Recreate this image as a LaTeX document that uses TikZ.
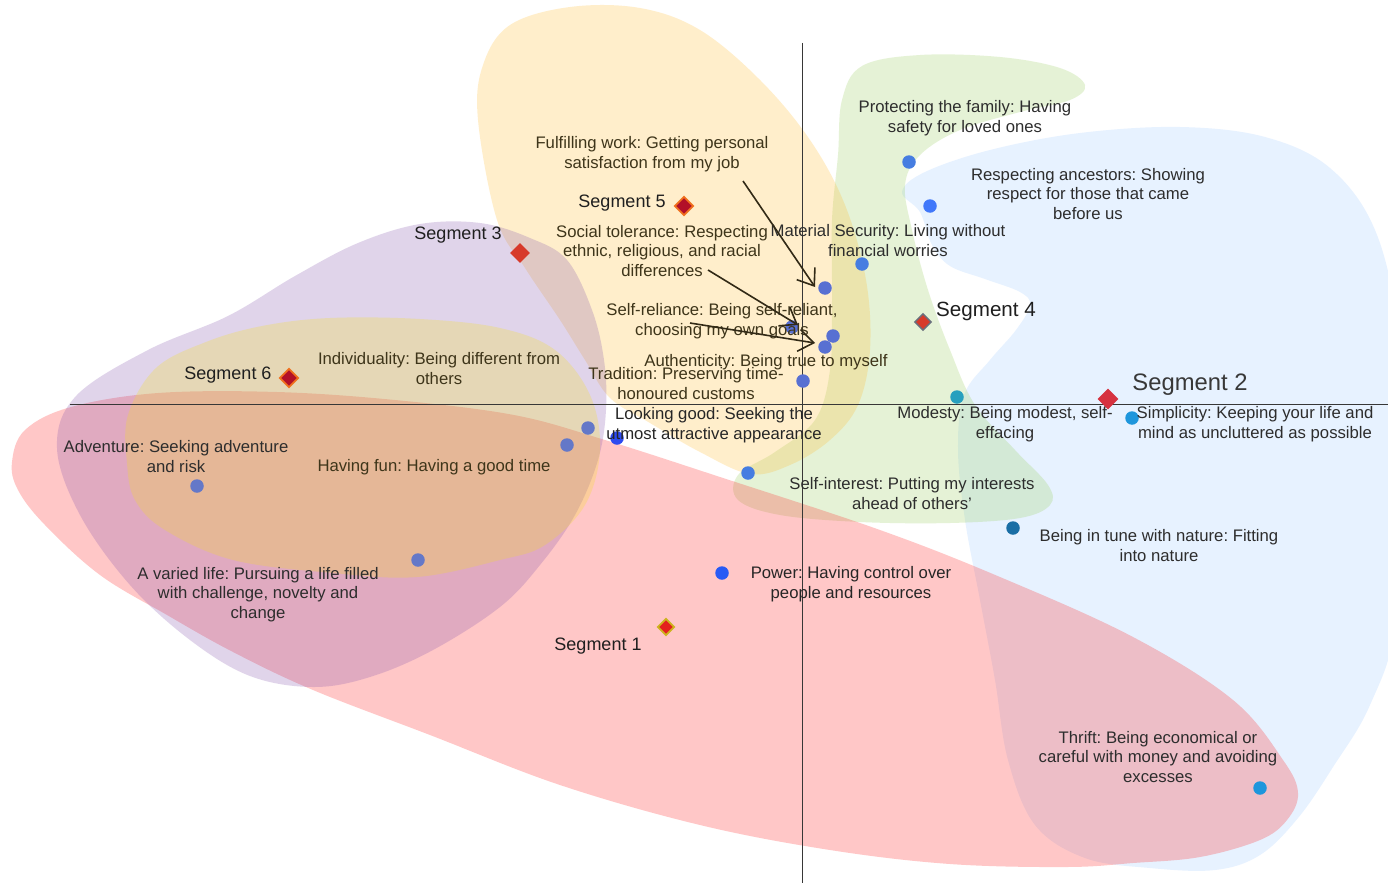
\documentclass[tikz,border=0pt]{standalone}
\usepackage{fontspec}
\setmainfont{Liberation Sans}
\usetikzlibrary{shapes.geometric,arrows.meta}
\frenchspacing

% blob fills (used translucent)
\definecolor{cBlue}{RGB}{160,205,255}
\definecolor{cGreen}{RGB}{155,207,95}
\definecolor{cYellow}{RGB}{255,190,51}
\definecolor{cRed}{RGB}{255,35,35}
\definecolor{cPurple}{RGB}{135,87,175}
\definecolor{cOrange}{RGB}{245,225,30}
% text and lines
\definecolor{txtGray}{RGB}{45,45,45}
\definecolor{txtOlive}{RGB}{62,53,26}
\definecolor{axisGray}{RGB}{55,55,55}
\definecolor{arrowBrown}{RGB}{50,42,22}
% value points
\definecolor{dotA}{RGB}{70,125,225}
\definecolor{dotB}{RGB}{65,120,250}
\definecolor{dotS}{RGB}{88,112,210}
\definecolor{dotG}{RGB}{100,120,200}
\definecolor{dotV}{RGB}{45,75,240}
\definecolor{dotW}{RGB}{40,90,245}
\definecolor{dotT}{RGB}{40,160,190}
\definecolor{dotL}{RGB}{30,150,220}
\definecolor{dotD}{RGB}{25,110,165}
% segment markers
\definecolor{segCrimson}{RGB}{178,16,40}
\definecolor{segOrange}{RGB}{240,112,30}
\definecolor{segRed}{RGB}{215,58,42}
\definecolor{segSlate}{RGB}{105,112,125}
\definecolor{segRose}{RGB}{214,50,64}
\definecolor{segScarlet}{RGB}{228,32,30}
\definecolor{segGold}{RGB}{205,180,30}

\tikzset{
  blob/.style={fill=#1, fill opacity=0.25, draw=none},
  lbl/.style={align=center, inner sep=0pt, text=txtGray,
    font=\fontsize{16.7}{19.3}\selectfont, text height=12pt, text depth=3.5pt},
  lbly/.style={lbl, text=txtOlive},
  seglbl/.style={inner sep=0pt, text=black!88, font=\fontsize{18}{20}\selectfont,
    text height=13pt, text depth=0pt},
  dot/.style={circle, inner sep=0pt, minimum size=13.5pt, fill=#1, draw=none},
  segmark/.style n args={2}{diamond, inner sep=0pt, minimum width=19pt,
    minimum height=19pt, fill=#1, draw=#2, line width=1.8pt},
  pointer/.style={draw=arrowBrown, line width=1.6pt,
    -{Straight Barb[length=15pt,width=22pt]}},
  axisline/.style={draw=axisGray, line width=0.9pt}
}

\begin{document}
\begin{tikzpicture}[x=1pt,y=-1pt]
\useasboundingbox (0,0) rectangle (1388,883);
\fill[white] (0,0) rectangle (1388,883);

% ---- segment regions ----
\fill[blob=cBlue] plot[smooth cycle, tension=0.6] coordinates {
  (902,192) (925,172) (990,150) (1080,133) (1180,127) (1265,137) (1330,168)
  (1375,230) (1398,330) (1400,450) (1396,620) (1370,705) (1333,767) (1298,818)
  (1260,855) (1215,870) (1150,868) (1085,858) (1035,825) (1008,760) (995,680)
  (980,600) (965,520) (958,450) (964,395) (990,360) (1016,330) (1030,305)
  (1020,292) (985,279) (950,266) (932,245) (920,212)};
\fill[blob=cGreen] plot[smooth cycle, tension=0.6] coordinates {
  (838,155) (842,100) (862,66) (920,55) (1000,57) (1060,68) (1085,85) (1070,100)
  (1020,112) (960,130) (920,155) (905,185) (912,230) (928,290) (950,350)
  (975,405) (1015,450) (1048,485) (1050,505) (1020,518) (950,523) (860,522)
  (780,515) (738,500) (738,475) (775,452) (815,420) (830,370) (832,300) (832,220)};
\fill[blob=cYellow] plot[smooth cycle, tension=0.6] coordinates {
  (478,120) (483,65) (510,25) (570,7) (640,8) (700,30) (760,80) (810,140)
  (845,205) (866,280) (870,350) (858,405) (830,440) (790,465) (750,474)
  (700,452) (650,423) (610,398) (585,360) (560,320) (525,268) (497,220)};
\fill[blob=cRed] plot[smooth cycle, tension=0.6] coordinates {
  (12,462) (25,430) (71,407) (158,393) (277,392) (395,400) (514,415) (605,440)
  (720,477) (880,530) (1000,577) (1133,637) (1233,700) (1283,760) (1298,793)
  (1287,820) (1260,840) (1200,857) (1133,863) (1067,867) (950,864) (830,850)
  (700,825) (560,785) (430,735) (313,690) (233,652) (167,615) (100,575)
  (45,525) (18,490)};
\fill[blob=cPurple] plot[smooth cycle, tension=0.6] coordinates {
  (57,448) (76,396) (148,350) (228,316) (295,276) (358,243) (420,224) (480,223)
  (530,238) (567,260) (592,310) (604,360) (606,410) (598,460) (575,515)
  (540,565) (500,607) (433,650) (370,677) (313,687) (250,676) (190,640)
  (130,585) (80,515)};
\fill[blob=cOrange] plot[smooth cycle, tension=0.6] coordinates {
  (127,463) (128,415) (156,368) (206,342) (262,326) (330,318) (420,319)
  (500,328) (555,350) (590,395) (600,450) (585,505) (545,545) (500,560)
  (417,577) (333,573) (233,560) (165,530) (135,500)};

% ---- axes ----
\coordinate (vTop) at (802,43);
\coordinate (vBot) at (802,883);
\coordinate (hLeft) at (70,404);
\coordinate (hRight) at (1388,404);
\draw[axisline] (vTop) -- (vBot);
\draw[axisline] (hLeft) -- (hRight);

% ---- value points ----
\node[dot=dotA] (dFam)  at (909,162) {};
\node[dot=dotB] (dAnc)  at (930,206) {};
\node[dot=dotA] (dMat)  at (862,264) {};
\node[dot=dotS] (dFul)  at (825,288) {};
\node[dot=dotS] (dRel)  at (792,327) {};
\node[dot=dotS] (dAu1)  at (833,336) {};
\node[dot=dotS] (dAu2)  at (825,347) {};
\node[dot=dotS] (dTra)  at (803,381) {};
\node[dot=dotG] (dFun1) at (588,428) {};
\node[dot=dotG] (dFun2) at (567,445) {};
\node[dot=dotV] (dLook) at (617,438) {};
\node[dot=dotA] (dInt)  at (748,473) {};
\node[dot=dotT] (dMod)  at (957,397) {};
\node[dot=dotL] (dSim)  at (1132,418) {};
\node[dot=dotD] (dNat)  at (1013,528) {};
\node[dot=dotL] (dThr)  at (1260,788) {};
\node[dot=dotG] (dAdv)  at (197,486) {};
\node[dot=dotG] (dVar)  at (418,560) {};
\node[dot=dotW] (dPow)  at (722,573) {};

% ---- value labels (y gives the last line) ----
\node[lbly] (lFul) at (652,164) {Fulfilling work: Getting personal\\satisfaction from my job};
\node[lbly] (lSoc) at (662,272) {Social tolerance: Respecting\\ethnic, religious, and racial\\differences};
\node[lbl] (lMat) at (888,252) {Material Security: Living without\\financial worries};
\node[lbl] (lFam) at (965,128) {Protecting the family: Having\\safety for loved ones};
\node[lbl] (lAnc) at (1088,215) {Respecting ancestors: Showing\\respect for those that came\\before us};
\node[lbly] (lRel) at (722,331) {Self-reliance: Being self-reliant,\\choosing my own goals};
\node[lbly] (lAut) at (766,362) {Authenticity: Being true to myself};
\node[lbly] (lTra) at (686,395) {Tradition: Preserving time-\\honoured customs};
\node[lbly] (lInd) at (439,380) {Individuality: Being different from\\others};
\node[lbl, text=black!85] (lLook) at (714,435) {Looking good: Seeking the\\utmost attractive appearance};
\node[lbl] (lMod) at (1005,434) {Modesty: Being modest, self-\\effacing};
\node[lbl] (lSim) at (1255,434) {Simplicity: Keeping your life and\\mind as uncluttered as possible};
\node[lbl] (lInt) at (912,505) {Self-interest: Putting my interests\\ahead of others’};
\node[lbl] (lAdv) at (176,468) {Adventure: Seeking adventure\\and risk};
\node[lbly] (lFun) at (434,467) {Having fun: Having a good time};
\node[lbl] (lVar) at (258,614) {A varied life: Pursuing a life filled\\with challenge, novelty and\\change};
\node[lbl, text=black!85] (lPow) at (851,594) {Power: Having control over\\people and resources};
\node[lbl] (lNat) at (1159,557) {Being in tune with nature: Fitting\\into nature};
\node[lbl] (lThr) at (1158,778) {Thrift: Being economical or\\careful with money and avoiding\\excesses};

% ---- pointers from labels ----
\coordinate (pFulA) at (743,181);
\coordinate (pFulB) at (815,287);
\coordinate (pSocA) at (708,270);
\coordinate (pSocB) at (798,325);
\coordinate (pRelA) at (690,323);
\coordinate (pRelB) at (815,343);
\draw[pointer] (pFulA) -- (pFulB);
\draw[pointer] (pSocA) -- (pSocB);
\draw[pointer] (pRelA) -- (pRelB);

% ---- segment markers ----
\node[segmark={segCrimson}{segOrange}] (s5) at (684,206) {};
\node[segmark={segRed}{segRed}, minimum width=18pt, minimum height=18pt] (s3) at (520,253) {};
\node[segmark={segCrimson}{segOrange}] (s6) at (289,378) {};
\node[segmark={segRed}{segSlate}, minimum width=17pt, minimum height=17pt, line width=1.4pt] (s4) at (923,322) {};
\node[segmark={segRose}{segRose}, minimum width=19pt, minimum height=19pt] (s2) at (1108,399) {};
\node[segmark={segScarlet}{segGold}, minimum width=17pt, minimum height=17pt] (s1) at (666,627) {};

\node[seglbl] (tS5) at (622,201) {Segment 5};
\node[seglbl] (tS3) at (458,233) {Segment 3};
\node[seglbl] (tS6) at (228,373) {Segment 6};
\node[seglbl, font=\fontsize{20.6}{22}\selectfont, text height=15pt] (tS4) at (986,309) {Segment 4};
\node[seglbl, font=\fontsize{23.8}{26}\selectfont, text height=17pt, text=black!78] (tS2) at (1190,382) {Segment 2};
\node[seglbl] (tS1) at (598,644) {Segment 1};
\end{tikzpicture}
\end{document}
